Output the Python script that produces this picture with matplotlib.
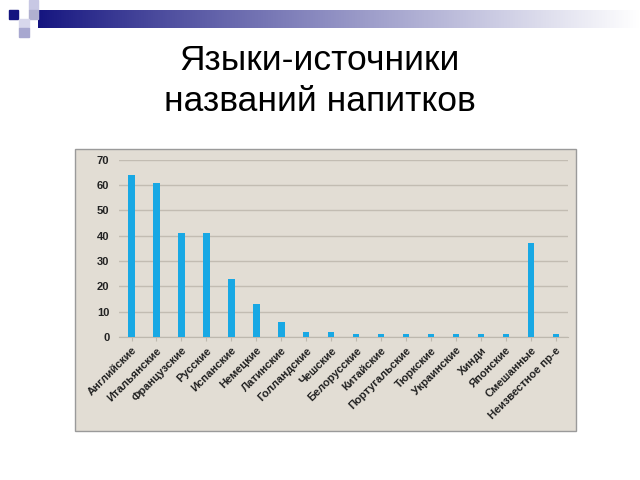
import matplotlib.pyplot as plt
import matplotlib.patches as mpatches
import numpy as np

# данные
languages = ['Английские', 'Итальянские', 'Французские', 'Русские', 'Испанские',
             'Немецкие', 'Латинские', 'Голландские', 'Чешские', 'Белорусские',
             'Китайские', 'Португальские', 'Тюркские', 'Украинские', 'Хинди',
             'Японские', 'Смешанные', 'Неизвестное пр-е']
counts = [64, 61, 41, 41, 23, 13, 6, 2, 2, 1, 1, 1, 1, 1, 1, 1, 37, 1]
y_ticks = [0, 10, 20, 30, 40, 50, 60, 70]

plt.rcParams['font.family'] = ['Liberation Sans', 'DejaVu Sans']

fig = plt.figure(figsize=(6.4, 4.8), dpi=100)
fig.patch.set_facecolor('white')

# декоративная шапка слайда (координаты в пикселях)
deco = fig.add_axes([0, 0, 1, 1])
deco.set_xlim(0, 640)
deco.set_ylim(480, 0)
deco.axis('off')
grad = np.linspace(0, 1, 256).reshape(1, -1)
navy = np.array([0.08, 0.08, 0.50])
cols = navy + (1 - navy) * grad[..., None] ** 0.9
deco.imshow(cols, extent=[38, 640, 28, 10], aspect='auto', zorder=1)
deco.add_patch(mpatches.Rectangle((9, 10), 9, 9, color='#14147f', zorder=2))
deco.add_patch(mpatches.Rectangle((29, 0), 9, 10, color='#c8c8e4', zorder=2))
deco.add_patch(mpatches.Rectangle((29, 10), 9, 9, color='#b0b0d0', zorder=2))
deco.add_patch(mpatches.Rectangle((19, 19), 10, 9, color='#d8d8ec', zorder=2))
deco.add_patch(mpatches.Rectangle((19, 28), 10, 9, color='#a8a8d0', zorder=2))

# фон диаграммы
deco.add_patch(mpatches.Rectangle((75, 149), 501, 282, facecolor='#e2ddd4',
                                  edgecolor='#9a9a9a', linewidth=1, zorder=1))

fig.text(0.5, 0.874, 'Языки-источники', ha='center', va='center', fontsize=25.5)
fig.text(0.5, 0.789, 'названий напитков', ha='center', va='center', fontsize=25.5)

ax = fig.add_axes([0.186, 0.298, 0.702, 0.369])
ax.patch.set_alpha(0)
index = np.arange(len(languages))
ax.bar(index, counts, 0.26, color='#18a8e4', zorder=3)

ax.set_xlim(-0.5, len(languages) - 0.5)
ax.set_ylim(0, 70)
ax.set_yticks(y_ticks)
ax.set_yticklabels([str(t) for t in y_ticks], fontsize=8, fontweight='bold',
                   color='#222222')
ax.set_xticks(index)
ax.set_xticklabels(languages, rotation=45, ha='right', rotation_mode='anchor',
                   fontsize=8, fontweight='bold', color='#222222')
ax.tick_params(axis='y', length=0, pad=7)
ax.tick_params(axis='x', length=3, color='#bdb8ae', pad=3)
ax.grid(axis='y', color='#c2bcb2', linewidth=1, zorder=0)
for side in ['top', 'right', 'left']:
    ax.spines[side].set_visible(False)
ax.spines['bottom'].set_color('#bdb8ae')

fig.savefig('out.png', dpi=100)
